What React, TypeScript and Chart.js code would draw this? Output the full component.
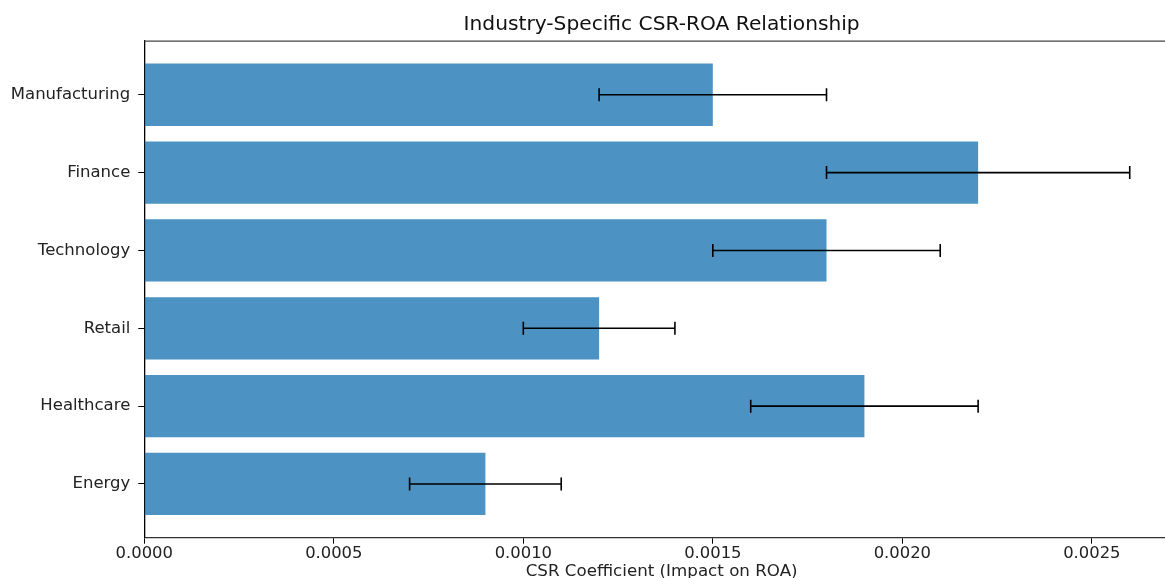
import React, { useEffect, useRef } from "react";
import { Chart, registerables } from "chart.js";

Chart.register(...registerables);

// Top-to-bottom order as shown in the chart
const CATEGORIES = ["Manufacturing", "Finance", "Technology", "Retail", "Healthcare", "Energy"];
const COEFFICIENTS = [0.0015, 0.0022, 0.0018, 0.0012, 0.0019, 0.0009];
const ERRORS = [0.0003, 0.0004, 0.0003, 0.0002, 0.0003, 0.0002];
const X_TICKS = [0, 0.0005, 0.001, 0.0015, 0.002, 0.0025];
const X_MIN = 0;
const X_MAX = 0.00273;
const Y_MIN = -0.69;
const Y_MAX = 5.69;

const TITLE = "Industry-Specific CSR-ROA Relationship";
const X_LABEL = "CSR Coefficient (Impact on ROA)";

const FONT = "'DejaVu Sans', sans-serif";

const errorBarPlugin = {
  id: "errorBars",
  afterDatasetsDraw(chart: any) {
    const xs = chart.scales.x;
    const ys = chart.scales.y;
    const ctx = chart.ctx;
    ctx.save();
    ctx.strokeStyle = "#000";
    ctx.lineWidth = 1.6;
    const cap = 6.5;
    COEFFICIENTS.forEach((v, i) => {
      const x1 = xs.getPixelForValue(v - ERRORS[i]);
      const x2 = xs.getPixelForValue(v + ERRORS[i]);
      const y = ys.getPixelForValue(i);
      ctx.beginPath();
      ctx.moveTo(x1, y);
      ctx.lineTo(x2, y);
      ctx.moveTo(x1, y - cap);
      ctx.lineTo(x1, y + cap);
      ctx.moveTo(x2, y - cap);
      ctx.lineTo(x2, y + cap);
      ctx.stroke();
    });
    ctx.restore();
  },
};

const spinePlugin = {
  id: "spines",
  afterDraw(chart: any) {
    const { ctx, chartArea } = chart;
    ctx.save();
    ctx.strokeStyle = "#444";
    ctx.lineWidth = 1.3;
    ctx.beginPath();
    ctx.moveTo(chartArea.left, chartArea.top);
    ctx.lineTo(chartArea.right, chartArea.top);
    ctx.lineTo(chartArea.right, chartArea.bottom);
    ctx.stroke();
    ctx.restore();
  },
};

export default function App() {
  const ref = useRef<HTMLCanvasElement | null>(null);

  useEffect(() => {
    if (!ref.current) return;
    const chart = new Chart(ref.current, {
      type: "bar",
      data: {
        datasets: [
          {
            data: COEFFICIENTS.map((v, i) => ({ x: v, y: i })),
            backgroundColor: "rgba(31,119,180,0.8)",
            borderWidth: 0,
            barPercentage: 0.8,
            categoryPercentage: 1.0,
          },
        ],
      },
      options: {
        indexAxis: "y",
        responsive: false,
        animation: false,
        layout: { padding: { left: 0, right: 11, top: 0, bottom: 0 } },
        plugins: {
          legend: { display: false },
          tooltip: { enabled: false },
          title: {
            display: true,
            fullSize: false,
            text: TITLE,
            color: "#111",
            font: { family: FONT, size: 20.2, weight: "normal" },
            padding: { top: 13, bottom: 3.8 },
          },
        },
        scales: {
          x: {
            type: "linear",
            min: X_MIN,
            max: X_MAX,
            offset: false,
            grid: { drawOnChartArea: false, drawTicks: true, tickLength: 6, color: "#000", offset: false },
            border: { display: true, color: "#333", width: 1.3 },
            ticks: {
              includeBounds: false,
              padding: 0,
              color: "#222",
              font: { family: FONT, size: 16.4 },
              maxRotation: 0,
              callback: (v: any) => Number(v).toFixed(4),
            },
            afterBuildTicks: (s: any) => {
              s.ticks = X_TICKS.map((v) => ({ value: v }));
            },
            afterFit: (s: any) => {
              s.height = 52.3;
            },
            title: {
              display: true,
              text: X_LABEL,
              color: "#222",
              font: { family: FONT, size: 16.7 },
              padding: { top: 0, bottom: 8.6 },
            },
          },
          y: {
            type: "linear",
            min: Y_MIN,
            max: Y_MAX,
            reverse: true,
            offset: false,
            grid: { drawOnChartArea: false, drawTicks: true, tickLength: 6, color: "#000", offset: false },
            border: { display: true, color: "#000", width: 1.3 },
            ticks: {
              padding: 8,
              color: "#222",
              font: { family: FONT, size: 16.5 },
              autoSkip: false,
              callback: (v: any) => CATEGORIES[Math.round(Number(v))] ?? "",
            },
            afterBuildTicks: (s: any) => {
              s.ticks = CATEGORIES.map((_, i) => ({ value: i }));
            },
            afterFit: (s: any) => {
              s.width = 144.3;
            },
          },
        },
      },
      plugins: [errorBarPlugin, spinePlugin],
    } as any);
    return () => chart.destroy();
  }, []);

  return (
    <div
      style={{
        position: "fixed",
        left: 0,
        top: 0,
        width: 1165,
        height: 578,
        overflow: "hidden",
        background: "#fff",
      }}
    >
      <canvas ref={ref} width={1190} height={590} style={{ display: "block", width: 1190, height: 590 }} />
    </div>
  );
}
